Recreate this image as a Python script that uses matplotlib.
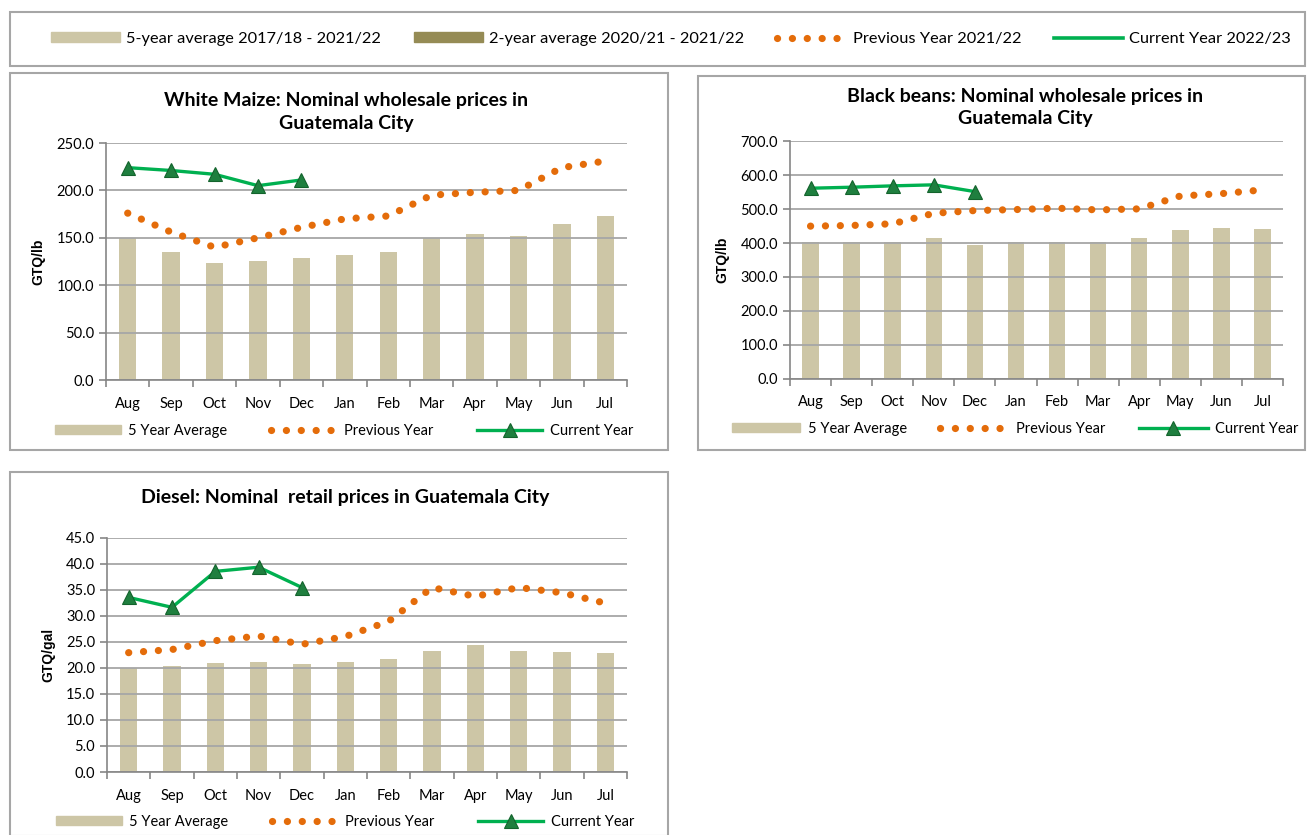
import numpy as np
import matplotlib.pyplot as plt
from matplotlib.patches import Rectangle, Patch
from matplotlib.lines import Line2D

months = ['Aug', 'Sep', 'Oct', 'Nov', 'Dec', 'Jan', 'Feb', 'Mar', 'Apr', 'May', 'Jun', 'Jul']

# White maize (GTQ/lb)
maize_avg5 = [150, 135, 123, 126, 129, 132, 135, 150, 154, 152, 165, 173]
maize_prev = [176, 156, 140, 150, 161, 170, 173, 195, 198, 200, 224, 231]
maize_curr = [224, 221, 217, 205, 211]

# Black beans (GTQ/lb)
beans_avg5 = [404, 404, 404, 414, 394, 402, 402, 402, 414, 438, 445, 443]
beans_prev = [450, 452, 457, 488, 496, 499, 503, 498, 501, 539, 546, 557]
beans_curr = [562, 565, 569, 572, 552]

# Diesel (GTQ/gal)
diesel_avg5 = [20.0, 20.3, 21.0, 21.2, 20.7, 21.2, 21.7, 23.3, 24.4, 23.2, 23.1, 22.8]
diesel_prev = [22.9, 23.5, 25.2, 26.1, 24.5, 26.0, 28.9, 35.4, 33.7, 35.4, 34.4, 32.4]
diesel_curr = [33.5, 31.6, 38.5, 39.3, 35.4]

BAR = '#cdc6a6'
BAR2 = '#958b55'
ORANGE = '#e46c0a'
GREEN = '#00b050'
MARK = '#1f7f3f'
MARK_EDGE = '#13632c'
GRID = '#a6a6a6'
FONT = 'Lato'

W, H = 1307, 835
fig = plt.figure(figsize=(W / 100, H / 100), dpi=100)


def frac(l, t, r, b):
    return [l / W, 1 - b / H, (r - l) / W, (b - t) / H]


def box(l, t, r, b):
    fig.add_artist(Rectangle((l / W, 1 - b / H), (r - l) / W, (b - t) / H,
                             transform=fig.transFigure, fill=False,
                             edgecolor='#a6a6a6', lw=1.5))


def prev_style():
    return dict(color=ORANGE, lw=5.2, linestyle=(0, (0.01, 2.05)),
                dash_capstyle='round')


def curr_style():
    return dict(color=GREEN, lw=2.4, marker='^', ms=10, mfc=MARK,
                mec=MARK_EDGE, mew=0.8)


def panel(rect, avg5, prev, curr, ymax, step, ylabel, title, title_y, title_x,
          leg_xy, leg_hl, leg_cs):
    ax = fig.add_axes(frac(*rect))
    x = np.arange(len(months))
    ax.bar(x, avg5, width=0.4, color=BAR, zorder=1)
    ax.plot(x, prev, **prev_style(), zorder=3)
    ax.plot(x[:len(curr)], curr, **curr_style(), zorder=4)
    ax.set_xlim(-0.5, 11.5)
    ax.set_ylim(0, ymax)
    yt = np.arange(0, ymax + step / 2, step)
    ax.set_yticks(yt)
    ax.set_yticklabels([f'{v:.1f}' for v in yt], fontsize=10.5, family=FONT)
    ax.set_xticks(x)
    ax.set_xticklabels(months, fontsize=10.5, family=FONT)
    ax.set_xticks(np.arange(-0.5, 12, 1), minor=True)
    ax.tick_params(axis='x', which='major', length=0, pad=12)
    ax.tick_params(axis='x', which='minor', length=5, color='#868686', width=1.2)
    ax.tick_params(axis='y', length=5, color='#868686', width=1.2, pad=3.5)
    ax.grid(axis='y', color=GRID, lw=1.3)
    ax.set_axisbelow('line')
    for s in ['top', 'right']:
        ax.spines[s].set_visible(False)
    for s in ['left', 'bottom']:
        ax.spines[s].set_color('#868686')
        ax.spines[s].set_linewidth(1.2)
    ax.set_ylabel(ylabel, fontsize=10, fontweight='bold',
                  family='Liberation Sans', labelpad=8)
    fig.text(title_x / W, 1 - title_y / H, title, ha='center', va='center',
             fontsize=14, fontweight='bold', family=FONT, linespacing=1.4)
    handles = [Patch(color=BAR),
               Line2D([], [], **prev_style()),
               Line2D([], [], **curr_style())]
    fig.legend(handles, ['5 Year Average', 'Previous Year', 'Current Year'],
               loc='center', bbox_to_anchor=(leg_xy[0] / W, 1 - leg_xy[1] / H),
               ncol=3, frameon=False, prop={'family': FONT, 'size': 10.5},
               handlelength=leg_hl, handleheight=0.6, handletextpad=0.5,
               columnspacing=leg_cs)
    return ax


# outer boxes
box(10, 12, 1305, 66)
box(10, 73, 668, 450)
box(698, 76, 1305, 450)
box(10, 472, 668, 836)

panel((106, 143, 627, 380), maize_avg5, maize_prev, maize_curr, 250, 50,
      'GTQ/lb', 'White Maize: Nominal wholesale prices in\nGuatemala City',
      112, 346, (344, 431), 4.5, 3.0)
panel((790, 141.5, 1283, 378.5), beans_avg5, beans_prev, beans_curr, 700, 100,
      'GTQ/lb', 'Black beans: Nominal wholesale prices in\nGuatemala City',
      107.5, 1025, (1015, 429), 4.7, 2.3)
panel((107, 537.5, 627, 772), diesel_avg5, diesel_prev, diesel_curr, 45, 5,
      'GTQ/gal', 'Diesel: Nominal  retail prices in Guatemala City',
      498, 345, (345, 822), 4.5, 3.0)

# top legend
top_handles = [Patch(color=BAR), Patch(color=BAR2),
               Line2D([], [], **prev_style()),
               Line2D([], [], color=GREEN, lw=2.6)]
fig.legend(top_handles,
           ['5-year average 2017/18 - 2021/22', '2-year average 2020/21 - 2021/22',
            'Previous Year 2021/22', 'Current Year 2022/23'],
           loc='center', bbox_to_anchor=(671 / W, 1 - 39 / H), ncol=4,
           frameon=False, prop={'family': FONT, 'size': 11.8},
           handlelength=4.2, handleheight=0.6, handletextpad=0.4,
           columnspacing=2.0)

fig.savefig('out.png', dpi=100)
